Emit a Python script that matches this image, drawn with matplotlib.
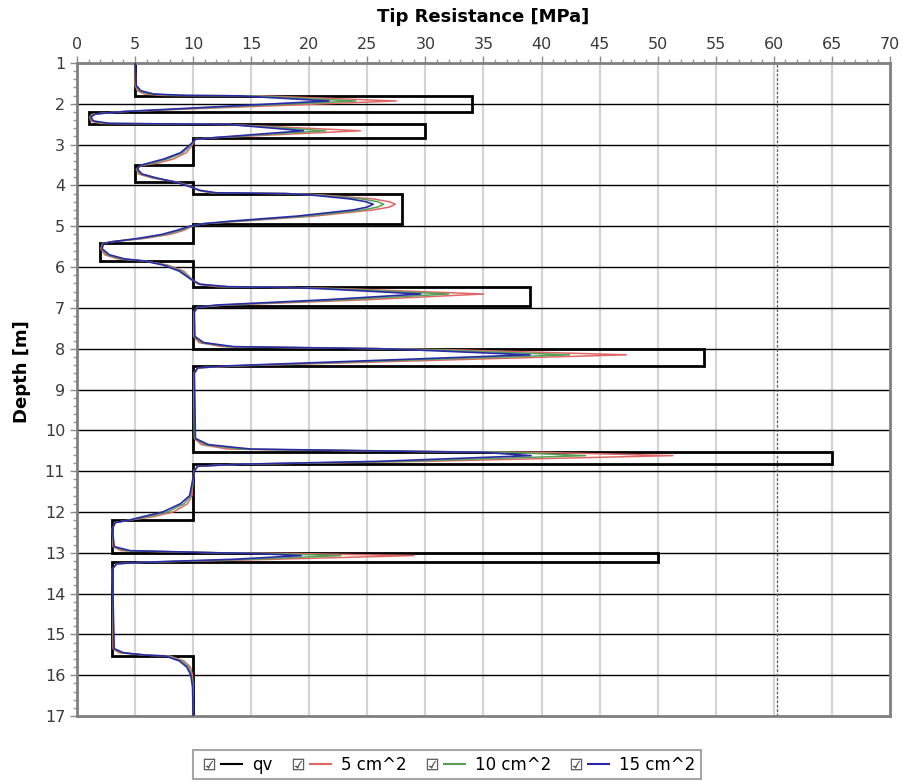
import matplotlib
matplotlib.use("Agg")
import matplotlib.pyplot as plt
from matplotlib.lines import Line2D
from matplotlib.legend_handler import HandlerTuple
from matplotlib.ticker import MultipleLocator

# ---- qv layer profile (step function) ----
layer_tops = [1.0, 1.8, 2.2, 2.5, 2.84, 3.5, 3.92, 4.2, 4.94, 5.4, 5.84, 6.49, 6.95, 8.0, 8.43, 10.52, 10.82, 12.2, 13.0, 13.23, 15.52]
layer_bots = [1.8, 2.2, 2.5, 2.84, 3.5, 3.92, 4.2, 4.94, 5.4, 5.84, 6.49, 6.95, 8.0, 8.43, 10.52, 10.82, 12.2, 13.0, 13.23, 15.52, 17.0]
layer_qv = [5, 34, 1, 30, 10, 5, 10, 28, 10, 2, 10, 39, 10, 54, 10, 65, 10, 3, 50, 3, 10]

# ---- averaged tip resistance for three cone areas ----
depth = [1.00, 1.55, 1.68, 1.76, 1.795, 1.805, 1.93, 2.19, 2.25, 2.32, 2.42, 2.48, 2.505, 2.66,
         2.835, 2.87, 3.00, 3.20, 3.35, 3.45, 3.51, 3.60, 3.72, 3.82, 3.92, 4.02, 4.12, 4.18,
         4.20, 4.23, 4.33, 4.40, 4.46, 4.53, 4.60, 4.75, 4.88, 4.94, 5.00, 5.10, 5.20, 5.30, 5.38, 5.42,
         5.55, 5.70, 5.80, 5.85, 5.95, 6.10, 6.30, 6.42, 6.48, 6.50, 6.53, 6.66, 6.80, 6.93,
         6.98, 7.10, 7.70, 7.85, 7.95, 8.00, 8.03, 8.15, 8.30, 8.42, 8.47, 8.60, 10.20, 10.35,
         10.46, 10.52, 10.54, 10.62, 10.76, 10.83, 10.88, 11.00, 11.60, 11.80, 12.00, 12.12,
         12.20, 12.26, 12.40, 12.85, 12.95, 13.00, 13.02, 13.07, 13.16, 13.23, 13.27, 13.40,
         15.35, 15.45, 15.51, 15.53, 15.65, 15.80, 16.00, 16.30, 17.00]
q_5 = [5.0, 5.0, 5.2, 5.8, 7.5, 16.0, 27.5, 4.0, 1.4, 1.1, 1.2, 2.0, 13.0, 24.4,
       11.5, 10.2, 9.95, 9.4, 8.3, 7.0, 5.6, 5.1, 5.3, 6.5, 8.7, 9.8, 10.4, 11.5,
       18.0, 21.0, 25.5, 26.9, 27.4, 26.9, 25.5, 20.5, 14.0, 10.8, 9.9, 9.2, 8.0, 5.8, 3.0, 2.2,
       2.05, 2.4, 3.5, 5.8, 7.8, 9.2, 9.9, 10.4, 12.0, 18.0, 23.0, 35.0, 25.0, 13.0,
       10.4, 10.05, 10.05, 10.5, 12.5, 26.0, 33.0, 47.3, 29.0, 14.0, 10.4, 10.05, 10.1, 10.7,
       13.0, 30.0, 40.0, 51.3, 30.0, 14.0, 10.4, 10.05, 9.9, 9.5, 8.3, 6.5,
       4.5, 3.3, 3.05, 3.1, 3.8, 12.0, 19.0, 29.0, 17.0, 6.0, 3.4, 3.05,
       3.1, 3.6, 6.0, 8.0, 9.2, 9.75, 9.95, 10.0, 10.0]
q_10 = [5.0, 5.05, 5.35, 6.2, 8.5, 15.0, 24.0, 4.0, 1.5, 1.15, 1.3, 2.4, 13.0, 21.4,
        11.5, 10.2, 9.85, 9.1, 7.8, 6.5, 5.5, 5.15, 5.45, 6.7, 8.6, 9.7, 10.5, 11.7,
        18.0, 20.5, 24.5, 25.9, 26.4, 25.9, 24.6, 19.8, 13.5, 10.8, 9.8, 8.9, 7.6, 5.5, 3.0, 2.25,
        2.1, 2.6, 3.8, 5.8, 7.6, 9.0, 9.85, 10.5, 12.5, 18.0, 22.0, 32.0, 23.0, 12.5,
        10.4, 10.1, 10.1, 10.7, 13.0, 26.0, 31.0, 42.4, 26.5, 13.5, 10.4, 10.1, 10.15, 11.0,
        14.0, 30.0, 37.0, 43.8, 28.0, 14.0, 10.4, 10.1, 9.8, 9.2, 7.8, 6.0,
        4.5, 3.3, 3.05, 3.15, 4.2, 12.0, 16.5, 22.7, 15.0, 6.0, 3.4, 3.05,
        3.15, 3.8, 6.0, 7.8, 9.0, 9.6, 9.85, 10.0, 10.0]
q_15 = [5.0, 5.1, 5.5, 6.6, 9.5, 14.0, 21.7, 4.0, 1.6, 1.2, 1.4, 2.8, 13.0, 19.5,
        11.5, 10.2, 9.75, 8.9, 7.5, 6.2, 5.4, 5.2, 5.6, 6.9, 8.5, 9.6, 10.6, 12.0,
        18.0, 20.0, 23.5, 24.9, 25.5, 25.0, 23.8, 19.0, 13.0, 10.8, 9.7, 8.6, 7.3, 5.2, 3.0, 2.3,
        2.15, 2.8, 4.1, 5.8, 7.4, 8.8, 9.8, 10.6, 13.0, 18.0, 21.0, 29.6, 21.5, 12.0,
        10.4, 10.1, 10.15, 10.9, 13.5, 26.0, 29.0, 39.0, 24.5, 13.0, 10.4, 10.1, 10.2, 11.3,
        15.0, 30.0, 35.0, 39.1, 26.0, 14.0, 10.4, 10.1, 9.7, 8.9, 7.4, 5.6,
        4.5, 3.3, 3.05, 3.2, 4.6, 12.0, 15.5, 19.3, 13.5, 6.0, 3.4, 3.05,
        3.2, 4.0, 6.0, 7.6, 8.8, 9.45, 9.8, 9.95, 10.0]

series_labels = ["qv", "5 cm^2", "10 cm^2", "15 cm^2"]
limit_value = 60.3

x_major = list(range(0, 75, 5))
y_major = list(range(1, 18))

# ---- figure ----
fig = plt.figure(figsize=(9.04, 7.82), dpi=100)
ax = fig.add_axes([77 / 904, 1 - 716 / 782, 813 / 904, 653 / 782])

# build step path for qv from the layer arrays
qv_x, qv_y = [], []
for t, b, v in zip(layer_tops, layer_bots, layer_qv):
    qv_x += [v, v]
    qv_y += [t, b]

# grid
for xv in x_major[1:-1]:
    ax.axvline(xv, color="#d4d4d4", lw=1.6, zorder=0)
for yv in y_major[1:-1]:
    ax.axhline(yv, color="black", lw=1.0, zorder=1)
ax.axvline(limit_value, color="#5c6b5c", lw=1.0, ls=(0, (2, 1.2)), zorder=1)

ax.plot(qv_x, qv_y, color="black", lw=2.0, zorder=2, solid_joinstyle="miter")
ax.plot(q_5, depth, color="#e06666", lw=1.1, zorder=3)
ax.plot(q_10, depth, color="#55a055", lw=1.1, zorder=4)
ax.plot(q_15, depth, color="#2a2aa8", lw=1.2, zorder=5)

ax.set_xlim(0, 70)
ax.set_ylim(17, 1)
ax.xaxis.tick_top()
ax.set_xticks(x_major)
ax.set_yticks(y_major)
ax.xaxis.set_minor_locator(MultipleLocator(1))
ax.yaxis.set_minor_locator(MultipleLocator(0.2))
ax.tick_params(axis="both", which="major", labelsize=11.5, labelcolor="#3a3a3a",
               color="#8a8a8a", length=5, width=1)
ax.tick_params(axis="both", which="minor", color="#9a9a9a", length=3, width=1)
ax.tick_params(axis="x", pad=3)
for sp in ax.spines.values():
    sp.set_color("#808080")
    sp.set_linewidth(2)

fig.text(483.5 / 904, 1 - 17 / 782, "Tip Resistance [MPa]", ha="center", va="center",
         fontsize=13, fontweight="bold")
ax.set_ylabel("Depth [m]", fontsize=13, fontweight="bold")
ax.yaxis.set_label_coords(-0.056, 0.527)

# legend with checkbox glyphs
def checkbox():
    return Line2D([], [], ls="none", marker="$\u2611$", markersize=8,
                  color="#555555", markeredgewidth=0.3)

h_qv = Line2D([], [], color="black", lw=1.5)
h_r = Line2D([], [], color="#e06666", lw=1.5)
h_g = Line2D([], [], color="#55a055", lw=1.5)
h_b = Line2D([], [], color="#2a2aa8", lw=1.5)
handles = [(checkbox(), h) for h in (h_qv, h_r, h_g, h_b)]
leg = fig.legend(handles, series_labels, loc="center", bbox_to_anchor=(447 / 904, 1 - 764.5 / 782),
                 ncol=4, fontsize=12, frameon=True, fancybox=False, edgecolor="#909090",
                 handler_map={tuple: HandlerTuple(ndivide=None, pad=0.1)},
                 handlelength=2.6, handletextpad=0.6, columnspacing=0.9, borderpad=0.35)
leg.get_frame().set_linewidth(1.5)

fig.savefig("out.png", dpi=100)
